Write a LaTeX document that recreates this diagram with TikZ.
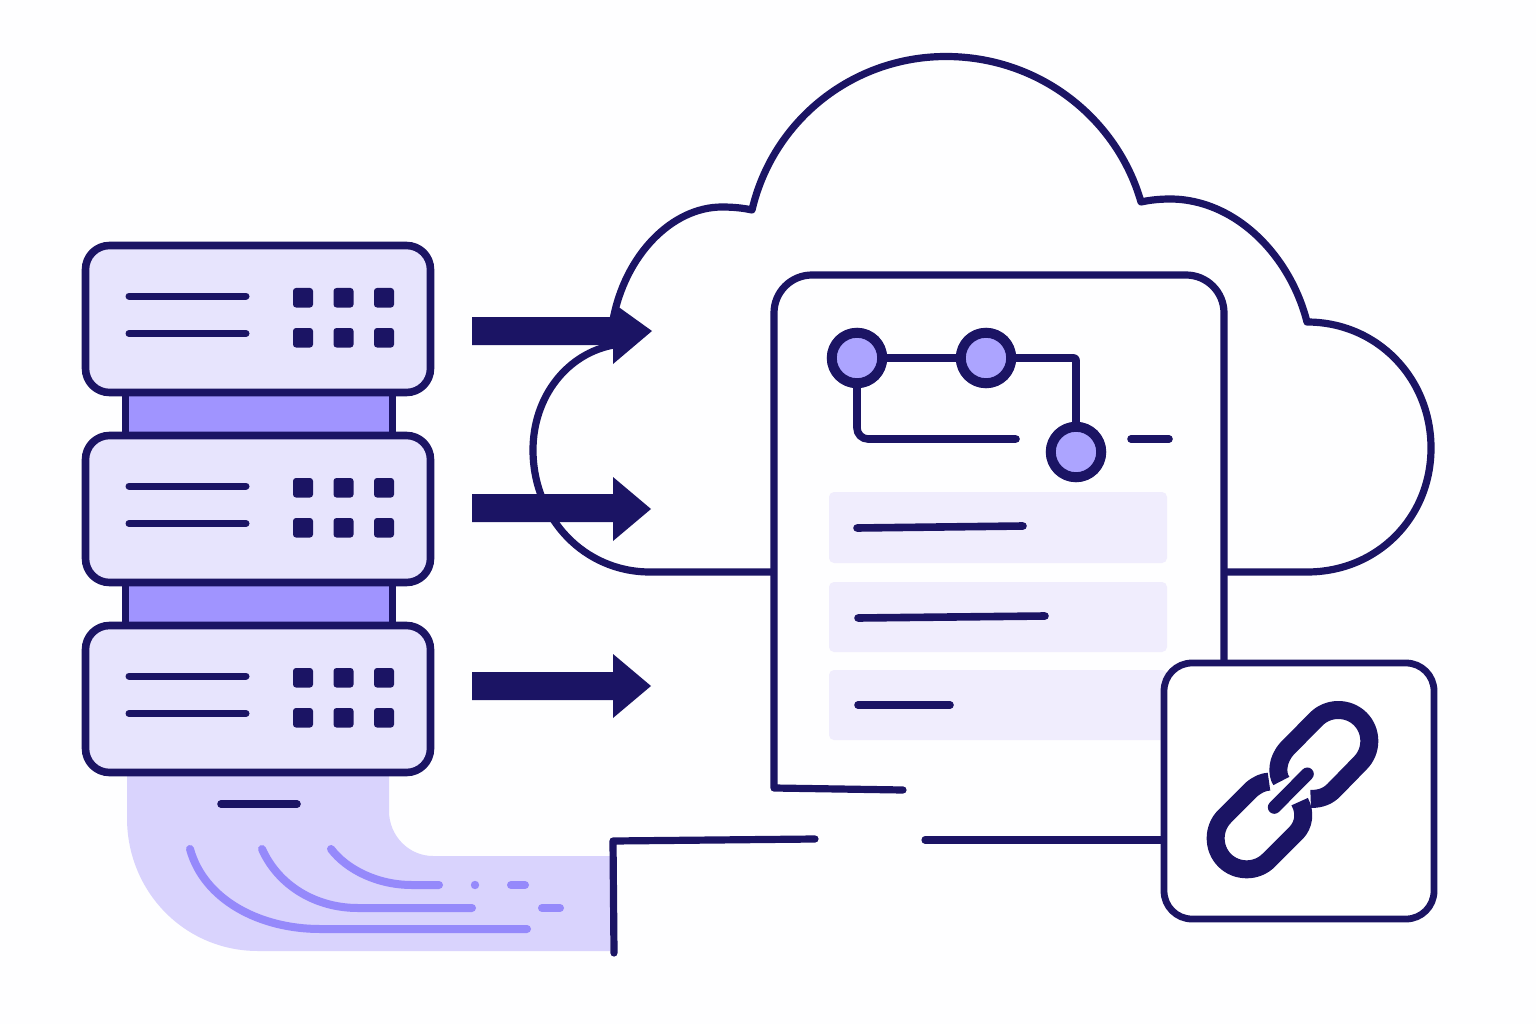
\documentclass[tikz,border=0pt]{standalone}
\definecolor{navy}{HTML}{1B1464}
\definecolor{srv}{HTML}{E7E4FD}
\definecolor{conn}{HTML}{A094FF}
\definecolor{pipe}{HTML}{D9D3FD}
\definecolor{stream}{HTML}{9589FB}
\definecolor{dotc}{HTML}{ACA4FF}
\definecolor{rowc}{HTML}{F0EDFD}
\definecolor{bgc}{HTML}{FEFEFF}
\tikzset{
  outline/.style={draw=navy,line width=7.2pt,line join=round,line cap=round},
  bar/.style={draw=navy,line width=7.6pt,line cap=round,line join=round},
  flow/.style={draw=stream,line width=8pt,line cap=round},
  unit/.style={draw=navy,fill=srv,line width=7.6pt,rounded corners=24pt},
  link/.style={fill=conn,draw=navy,line width=7pt},
  led/.style={fill=navy,rounded corners=3pt},
  commit/.style={circle,draw=navy,fill=dotc,line width=10pt,minimum size=50.5pt,inner sep=0pt,outer sep=0pt},
  rowbox/.style={fill=rowc,rounded corners=5pt},
  chain/.style={draw=navy,line width=18pt,line cap=butt,line join=round},
}
\begin{document}
\begin{tikzpicture}[x=1pt,y=-1pt]
\useasboundingbox (0,0) rectangle (1536,1024);
\fill[bgc] (0,0) rectangle (1536,1024);

% pipe under the servers
\fill[pipe] (127,770) -- (127,818) .. controls (127,892) and (185,951) .. (258,951)
  -- (610,951) -- (610,856) -- (433,856) .. controls (409,856) and (389,836) .. (389,811) -- (389,770) -- cycle;
\draw[bar] (221,804) -- (297,804);
\draw[flow] (190,849) .. controls (204,900) and (260,929) .. (320,929) -- (527,929);
\draw[flow] (262,849) .. controls (278,885) and (315,908) .. (358,908) -- (472,908);
\draw[flow] (331,849) .. controls (347,870) and (378,885) .. (412,885) -- (439,885);
\fill[stream] (475,885) circle (4.2pt);
\draw[flow] (511,885) -- (525,885);
\draw[flow] (542,908) -- (560,908);

% connectors between the servers
\draw[link] (125.5,385) rectangle (392.5,440);
\draw[link] (125.5,575) rectangle (392.5,630);

% servers
\foreach \dy in {0,190,380}{
  \draw[unit] (85.5,245.5+\dy) rectangle (430.5,392.5+\dy);
  \draw[bar,line width=7pt] (129,296+\dy) -- (246,296+\dy);
  \draw[bar,line width=7pt] (129,333.5+\dy) -- (246,333.5+\dy);
  \foreach \sx in {293,333.5,374}{
    \fill[led] (\sx,288+\dy) rectangle ++(20,19.5);
    \fill[led] (\sx,328+\dy) rectangle ++(20,19.5);
  }
}

% cloud
\draw[outline] (771,572) -- (650,572) .. controls (584,572) and (533,518) .. (533,450)
  .. controls (533,396) and (568,353) .. (614,345);
\draw[outline] (613,320) .. controls (625,255) and (672,207) .. (722,207)
  .. controls (733,207) and (743,208) .. (752,210)
  .. controls (773,120) and (853,56.5) .. (946,56.5)
  .. controls (1039,56.5) and (1117,118) .. (1141,202)
  .. controls (1150,200) and (1160,199) .. (1170,199)
  .. controls (1235,199) and (1290,255) .. (1307,322)
  .. controls (1377,322) and (1431,378) .. (1431,448)
  .. controls (1431,518) and (1377,572) .. (1307,572) -- (1226,572);

% arrows
\fill[navy] (472,317) -- (613,317) -- (613,303) -- (652,331) -- (613,364) -- (613,345) -- (472,345) -- cycle;
\fill[navy] (472,494) -- (613,494) -- (613,477) -- (651,509) -- (613,541) -- (613,522) -- (472,522) -- cycle;
\fill[navy] (472,672) -- (613,672) -- (613,654) -- (651,686) -- (613,718) -- (613,700) -- (472,700) -- cycle;

% document card
\draw[outline] (903,790) -- (774,788) {[rounded corners=38pt] -- (774,275) -- (1224,275) -- (1224,662)};

% rows
\fill[rowbox] (829,492) rectangle (1167,563);
\fill[rowbox] (829,582) rectangle (1167,652);
\fill[rowbox] (829,670) rectangle (1167,740);
\draw[bar] (857,528) -- (1023,526);
\draw[bar] (858,618) -- (1045,616);
\draw[bar] (858,705) -- (950,705);

% branch graph
\coordinate (e1) at (1016,439);
\coordinate (d1) at (1131,439);
\coordinate (d2) at (1169,439);
\coordinate (k1) at (1076,358);
\coordinate (k2) at (857,439);
\node[commit] (c1) at (857,358) {};
\node[commit] (c2) at (986,358) {};
\node[commit] (c3) at (1076,452) {};
\draw[bar,line cap=butt] (c1) -- (c2);
\draw[bar,line cap=butt,rounded corners=2pt] (c2.east) -- (k1) -- (c3.north);
\draw[bar,rounded corners=11pt] (c1.south) -- (k2) -- (e1);
\draw[bar] (d1) -- (d2);

% lower broken frame
\draw[outline] (815,839) -- (613,841) -- (614,953);
\draw[outline] (925,840) -- (1164,840);

% link box
\draw[draw=navy,fill=white,line width=6.8pt,rounded corners=28pt] (1164,663) rectangle (1434,919);
\begin{scope}[shift={(1150,650)},x=0.3333pt,y=-0.3333pt]
  \draw[chain] (394,393) .. controls (380,372) and (380,330) .. (412,295) -- (499,207)
    .. controls (535,171) and (595,171) .. (631,207)
    .. controls (667,243) and (667,303) .. (631,339)
    -- (552,420) .. controls (535,437) and (515,447) .. (482,447);
  \draw[chain] (357,395) .. controls (340,396) and (325,402) .. (305,418) -- (224,499)
    .. controls (188,535) and (188,595) .. (224,631)
    .. controls (260,667) and (320,667) .. (356,631)
    -- (440,547) .. controls (460,525) and (468,490) .. (449,455);
  \draw[draw=white,line width=15pt,line cap=round] (373,472) -- (472,372);
  \draw[draw=navy,line width=13pt,line cap=round] (373,472) -- (472,372);
\end{scope}
\end{tikzpicture}
\end{document}
